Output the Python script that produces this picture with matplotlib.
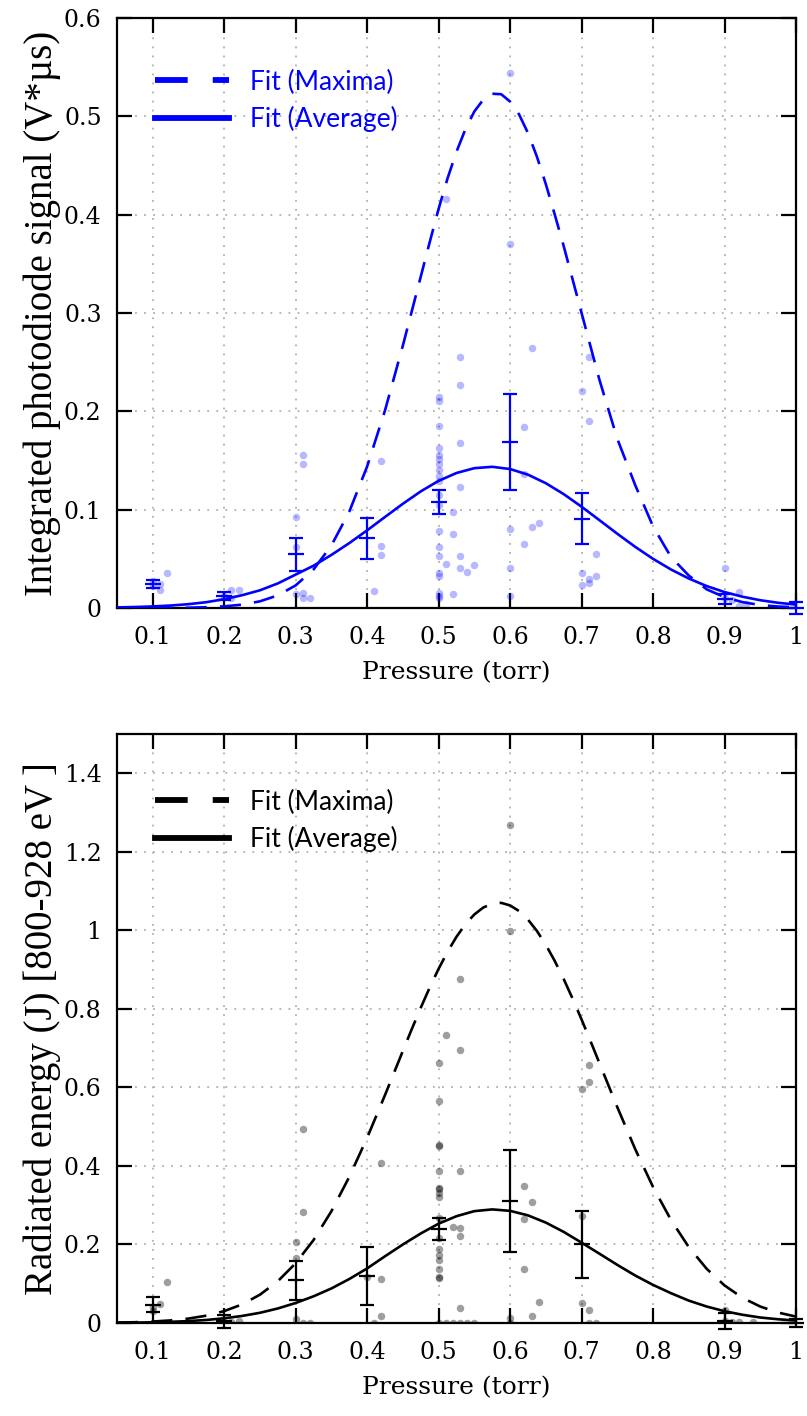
import matplotlib
matplotlib.use("Agg")
import matplotlib.pyplot as plt
from matplotlib.lines import Line2D
from matplotlib.ticker import FuncFormatter

# ---------------- data ----------------
fit_x = [0.05, 0.075, 0.1, 0.125, 0.15, 0.175, 0.2, 0.225, 0.25, 0.275, 0.3, 0.325,
         0.35, 0.375, 0.4, 0.425, 0.45, 0.475, 0.5, 0.525, 0.55, 0.575, 0.6, 0.625,
         0.65, 0.675, 0.7, 0.725, 0.75, 0.775, 0.8, 0.825, 0.85, 0.875, 0.9, 0.925,
         0.95, 0.975, 1.0]
# denser sampling read around the peaks of the "Maxima" fits
fit_x_max = [0.05, 0.075, 0.1, 0.125, 0.15, 0.175, 0.2, 0.225, 0.25, 0.275, 0.3, 0.325,
             0.35, 0.375, 0.4, 0.425, 0.45, 0.4625, 0.475, 0.4875, 0.5, 0.5125, 0.525,
             0.5375, 0.55, 0.5625, 0.575, 0.5875, 0.6, 0.6125, 0.625, 0.6375, 0.65,
             0.6625, 0.675, 0.6875, 0.7, 0.7125, 0.725, 0.75, 0.775, 0.8, 0.825, 0.85,
             0.875, 0.9, 0.925, 0.95, 0.975, 1.0]

top_fit_max = [0.0, 0.0, 0.00005, 0.0001, 0.0003, 0.0008, 0.0017, 0.0034, 0.0068, 0.0128,
               0.023, 0.0392, 0.0636, 0.098, 0.144, 0.201, 0.267, 0.302, 0.337, 0.372,
               0.406, 0.437, 0.464, 0.487, 0.505, 0.517, 0.523, 0.5225, 0.515, 0.502,
               0.483, 0.459, 0.431, 0.400, 0.368, 0.334, 0.300, 0.266, 0.232, 0.172,
               0.125, 0.083, 0.052, 0.033, 0.019, 0.011, 0.006, 0.003, 0.0015, 0.0007]
top_fit_avg = [0.0006, 0.001, 0.0016, 0.0025, 0.0039, 0.0059, 0.0090, 0.013, 0.018, 0.025,
               0.034, 0.043, 0.054, 0.066, 0.079, 0.0926, 0.106, 0.1186, 0.1293, 0.1373,
               0.1422, 0.1436, 0.1413, 0.1356, 0.1269, 0.1158, 0.103, 0.0893, 0.0755,
               0.0622, 0.050, 0.0392, 0.030, 0.0223, 0.0162, 0.0115, 0.0079, 0.0053, 0.0035]

bot_fit_max = [0.0011, 0.002, 0.0037, 0.0066, 0.0113, 0.0187, 0.0303, 0.0474, 0.0721, 0.1064,
               0.1523, 0.2113, 0.2847, 0.3722, 0.4719, 0.5807, 0.6931, 0.7488, 0.8028,
               0.8543, 0.9022, 0.9455, 0.9837, 1.0155, 1.0405, 1.0581, 1.0679, 1.07,
               1.0634, 1.0492, 1.0274, 0.9984, 0.963, 0.9219, 0.8759, 0.8258, 0.7729,
               0.7178, 0.6617, 0.5496, 0.443, 0.3463, 0.2627, 0.1933, 0.1381, 0.0957,
               0.0643, 0.0419, 0.0266, 0.0163]
bot_fit_avg = [0.0006, 0.001, 0.0018, 0.003, 0.0049, 0.0077, 0.012, 0.018, 0.026, 0.037,
               0.051, 0.068, 0.088, 0.112, 0.139, 0.170, 0.200, 0.228, 0.253, 0.272,
               0.2849, 0.2893, 0.2856, 0.2741, 0.2557, 0.232, 0.2046, 0.1765, 0.148,
               0.121, 0.097, 0.076, 0.057, 0.042, 0.030, 0.021, 0.014, 0.0095, 0.0062]

err_x = [0.1, 0.2, 0.3, 0.4, 0.5, 0.6, 0.7, 0.9, 1.0]
top_mean = [0.0244, 0.012, 0.0546, 0.071, 0.108, 0.169, 0.091, 0.009, 0.0]
top_err = [0.0045, 0.004, 0.017, 0.021, 0.012, 0.049, 0.026, 0.005, 0.006]
bot_mean = [0.047, 0.004, 0.109, 0.12, 0.24, 0.31, 0.2, 0.005, 0.0]
bot_err = [0.018, 0.016, 0.05, 0.073, 0.028, 0.13, 0.085, 0.02, 0.01]

top_pts_x = [0.10, 0.10, 0.11, 0.11, 0.12,
             0.20, 0.21, 0.22, 0.21,
             0.31, 0.31, 0.30, 0.30, 0.30, 0.31, 0.31, 0.32,
             0.42, 0.42, 0.42, 0.41,
             0.50, 0.50, 0.50, 0.50, 0.50, 0.50, 0.50, 0.50, 0.50, 0.50, 0.50, 0.50,
             0.50, 0.50, 0.50, 0.50, 0.50, 0.50, 0.50, 0.50,
             0.51, 0.53, 0.53, 0.53, 0.53, 0.52, 0.52, 0.53, 0.53, 0.54, 0.55, 0.51, 0.52,
             0.60, 0.60, 0.60, 0.60, 0.60, 0.62, 0.63, 0.62, 0.63, 0.64, 0.62,
             0.70, 0.71, 0.71, 0.70, 0.70, 0.71, 0.71, 0.72, 0.72,
             0.90, 0.92, 0.93, 0.91, 0.90, 0.92]
top_pts_y = [0.027, 0.022, 0.024, 0.018, 0.036,
             0.012, 0.018, 0.018, 0.010,
             0.156, 0.146, 0.093, 0.062, 0.014, 0.015, 0.010, 0.010,
             0.149, 0.063, 0.054, 0.0175,
             0.2145, 0.211, 0.1855, 0.1625, 0.156, 0.1516, 0.146, 0.140, 0.1345, 0.129,
             0.115, 0.105, 0.078, 0.062, 0.0527, 0.0356, 0.0327, 0.0153, 0.0127, 0.010,
             0.416, 0.255, 0.227, 0.168, 0.123, 0.098, 0.0756, 0.0527, 0.041, 0.037,
             0.0436, 0.045, 0.0145,
             0.544, 0.370, 0.080, 0.0407, 0.0127, 0.1836, 0.264, 0.0647, 0.0825, 0.0865,
             0.136,
             0.221, 0.255, 0.190, 0.036, 0.0236, 0.029, 0.0255, 0.0545, 0.0327,
             0.041, 0.016, 0.004, 0.008, 0.010, 0.002]

bot_pts_x = [0.11, 0.12, 0.10, 0.10,
             0.22, 0.20, 0.21,
             0.31, 0.31, 0.30, 0.30, 0.31, 0.32, 0.30,
             0.42, 0.42, 0.42, 0.40, 0.41,
             0.50, 0.50, 0.50, 0.50, 0.50, 0.50, 0.50, 0.50, 0.50, 0.50, 0.50, 0.50,
             0.50, 0.50, 0.50, 0.50, 0.50, 0.50,
             0.51, 0.53, 0.53, 0.53, 0.52, 0.53, 0.53, 0.53, 0.51, 0.52, 0.53, 0.54, 0.55,
             0.60, 0.60, 0.60, 0.60, 0.62, 0.63, 0.62, 0.62, 0.64, 0.63,
             0.70, 0.71, 0.71, 0.70, 0.70, 0.71, 0.71, 0.72,
             0.90, 0.90, 0.92, 0.94, 0.91]
bot_pts_y = [0.049, 0.104, 0.040, 0.030,
             0.005, 0.003, 0.002,
             0.4935, 0.2817, 0.2054, 0.1656, 0.0, 0.0, 0.010,
             0.407, 0.113, 0.019, 0.118, 0.0,
             0.6626, 0.5655, 0.4524, 0.452, 0.3864, 0.344, 0.342, 0.330, 0.320, 0.2686,
             0.2168, 0.1885, 0.174, 0.160, 0.1367, 0.116, 0.114, 0.0,
             0.7323, 0.8756, 0.6956, 0.3864, 0.245, 0.2422, 0.2215, 0.0377, 0.0, 0.0,
             0.0, 0.0, 0.0,
             1.2677, 0.9972, 0.014, 0.0, 0.350, 0.309, 0.266, 0.1367, 0.0547, 0.017,
             0.5957, 0.6126, 0.657, 0.273, 0.050, 0.033, 0.0, 0.0,
             0.034, 0.004, 0.003, 0.003, 0.002]

x_ticks = [0.1, 0.2, 0.3, 0.4, 0.5, 0.6, 0.7, 0.8, 0.9, 1.0]
top_yticks = [0, 0.1, 0.2, 0.3, 0.4, 0.5, 0.6]
bot_yticks = [0, 0.2, 0.4, 0.6, 0.8, 1.0, 1.2, 1.4]

# ---------------- figure ----------------
W, H = 807, 1416
fig = plt.figure(figsize=(W / 100, H / 100), dpi=100)

def axes_px(left, top, right, bottom):
    return fig.add_axes([left / W, 1 - bottom / H, (right - left) / W, (bottom - top) / H])

ax1 = axes_px(117, 18, 796, 608)
ax2 = axes_px(117, 734, 796, 1323)

fmt = FuncFormatter(lambda v, p: ("%g" % round(v, 3)))

def style(ax, ylim, yticks, ylabel):
    ax.set_xlim(0.05, 1.0)
    ax.set_ylim(*ylim)
    ax.set_xticks(x_ticks)
    ax.set_yticks(yticks)
    ax.xaxis.set_major_formatter(fmt)
    ax.yaxis.set_major_formatter(fmt)
    ax.tick_params(direction="in", length=11, width=1.6, top=True, right=True,
                   labelsize=17, pad=11)
    ax.tick_params(axis="x", pad=13)
    for lab in ax.get_xticklabels() + ax.get_yticklabels():
        lab.set_family("DejaVu Serif")
    for s in ax.spines.values():
        s.set_linewidth(1.6)
    ax.grid(True, color="#b0b0b0", linestyle=(0, (1, 4)), linewidth=1.3)
    ax.set_axisbelow(True)
    ax.set_xlabel("Pressure (torr)", family="DejaVu Serif", fontsize=18, labelpad=9)
    ax.set_ylabel(ylabel, family="Liberation Serif", fontsize=28, labelpad=2)

def panel(ax, color, pts_x, pts_y, pt_alpha, fmax, favg, mean, err, leg_y):
    ax.plot(pts_x, pts_y, "o", color=color, alpha=pt_alpha, markersize=5.4,
            markeredgewidth=0, zorder=2)
    ax.plot(fit_x_max, fmax, color=color, linewidth=1.9, linestyle=(0, (8, 5)), zorder=3)
    ax.plot(fit_x, favg, color=color, linewidth=1.9, zorder=3)
    ax.errorbar(err_x, mean, yerr=err, fmt="_", color=color, markersize=11,
                markeredgewidth=1.6, elinewidth=1.6, capsize=5, capthick=1.6,
                zorder=4, clip_on=False)
    handles = [Line2D([], [], color=color, linewidth=4.2, linestyle=(0, (5.6, 4.3))),
               Line2D([], [], color=color, linewidth=4.2)]
    leg = ax.legend(handles, ["Fit (Maxima)", "Fit (Average)"], loc="upper left",
                    bbox_to_anchor=(0.021, leg_y), frameon=False, handlelength=2.8,
                    handletextpad=0.8, labelspacing=0.42,
                    prop={"family": "Lato", "size": 19})
    for t in leg.get_texts():
        t.set_color(color)

style(ax1, (0, 0.6), top_yticks, "Integrated photodiode signal (V*\u00b5s)")
panel(ax1, "#0000ff", top_pts_x, top_pts_y, 0.28, top_fit_max, top_fit_avg,
      top_mean, top_err, 0.953)

style(ax2, (0, 1.5), bot_yticks, "Radiated energy (J) [800-928 eV ]")
panel(ax2, "#000000", bot_pts_x, bot_pts_y, 0.38, bot_fit_max, bot_fit_avg,
      bot_mean, bot_err, 0.946)

fig.savefig("out.png", dpi=100)
